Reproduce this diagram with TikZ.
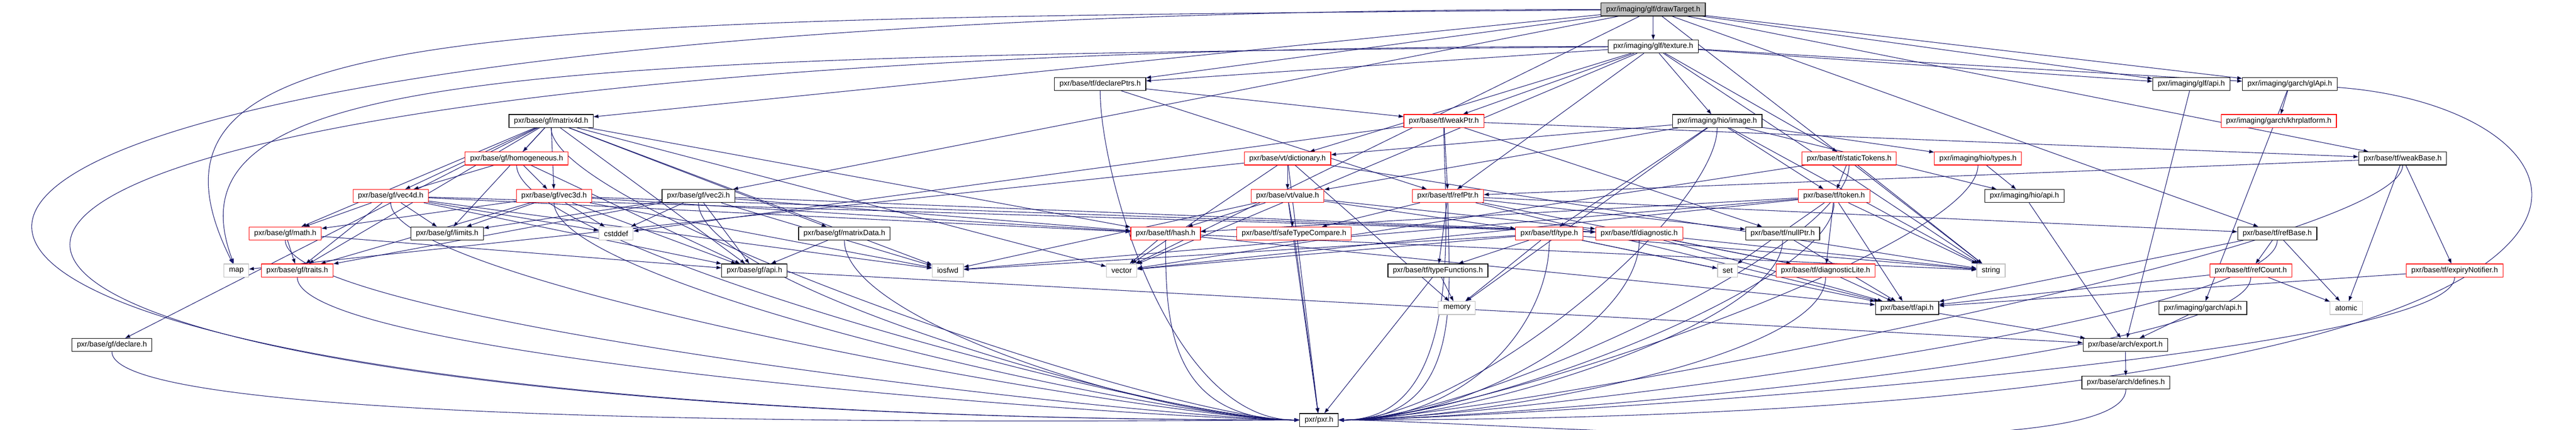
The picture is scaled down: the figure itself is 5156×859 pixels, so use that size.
\documentclass[tikz,border=0pt]{standalone}
\usepackage{fontspec}
\setmainfont{Liberation Sans}
\usetikzlibrary{arrows.meta,backgrounds}
\definecolor{edgeblue}{RGB}{25,25,112}
\definecolor{boxred}{RGB}{255,0,0}
\definecolor{sysgray}{RGB}{191,191,191}
\tikzset{
	hdr/.style={draw=black, line width=1.2pt, fill=white, rectangle, minimum height=26pt, inner xsep=10pt, inner ysep=0pt, font=\fontsize{15}{18}\selectfont, text=black},
	redhdr/.style={hdr, draw=boxred},
	syshdr/.style={hdr, draw=sysgray},
	rootbox/.style={hdr, fill=sysgray},
	dep/.style={draw=edgeblue, line width=1.1pt, -{Triangle[length=10pt,width=7pt]}},
	sinkL/.style={dep, to path={.. controls +(0,-180) and +(-300,0) .. (\tikztotarget)}},
	sinkR/.style={dep, to path={.. controls +(0,-180) and +(300,0) .. (\tikztotarget)}}
}
\begin{document}
\begin{tikzpicture}[x=1pt,y=1pt]
				\useasboundingbox (0,0) rectangle (5156,859);
				
				\draw (3309,840) node[rootbox] (root) {pxr/imaging/glf/drawTarget.h};
				\draw (3309,766) node[hdr] (tex) {pxr/imaging/glf/texture.h};
				\draw (2202,691) node[hdr] (declptr) {pxr/base/tf/declarePtrs.h};
				\draw (4386,691) node[hdr] (glfapi) {pxr/imaging/glf/api.h};
				\draw (4583,691) node[hdr] (glapi) {pxr/imaging/garch/glApi.h};
				\draw (1103,617) node[hdr] (mat) {pxr/base/gf/matrix4d.h};
				\draw (2890,617) node[redhdr] (weakptr) {pxr/base/tf/weakPtr.h};
				\draw (3437,617) node[hdr] (image) {pxr/imaging/hio/image.h};
				\draw (4561,617) node[redhdr] (khr) {pxr/imaging/garch/khrplatform.h};
				\draw (1034,542) node[redhdr] (homog) {pxr/base/gf/homogeneous.h};
				\draw (2577,542) node[redhdr] (dict) {pxr/base/vt/dictionary.h};
				\draw (3701,542) node[redhdr] (stok) {pxr/base/tf/staticTokens.h};
				\draw (3959,542) node[redhdr] (hiotypes) {pxr/imaging/hio/types.h};
				\draw (4809,542) node[hdr] (weakbase) {pxr/base/tf/weakBase.h};
				\draw (782,467) node[redhdr] (vec4d) {pxr/base/gf/vec4d.h};
				\draw (1109,467) node[redhdr] (vec3d) {pxr/base/gf/vec3d.h};
				\draw (1398,467) node[hdr] (vec2i) {pxr/base/gf/vec2i.h};
				\draw (2577,467) node[redhdr] (value) {pxr/base/vt/value.h};
				\draw (2898,467) node[redhdr] (refptr) {pxr/base/tf/refPtr.h};
				\draw (3671,467) node[redhdr] (token) {pxr/base/tf/token.h};
				\draw (4052,467) node[hdr] (hioapi) {pxr/imaging/hio/api.h};
				\draw (571,392) node[redhdr] (math) {pxr/base/gf/math.h};
				\draw (895,392) node[hdr] (limits) {pxr/base/gf/limits.h};
				\draw (1233,392) node[syshdr] (cstddef) {cstddef};
				\draw (1690,392) node[hdr] (matdata) {pxr/base/gf/matrixData.h};
				\draw (2333,392) node[redhdr] (hash) {pxr/base/tf/hash.h};
				\draw (2590,392) node[redhdr] (safe) {pxr/base/tf/safeTypeCompare.h};
				\draw (3101,392) node[redhdr] (type) {pxr/base/tf/type.h};
				\draw (3281,392) node[redhdr] (diag) {pxr/base/tf/diagnostic.h};
				\draw (3568,392) node[hdr] (nullptr) {pxr/base/tf/nullPtr.h};
				\draw (4558,392) node[hdr] (refbase) {pxr/base/tf/refBase.h};
				\draw (473,318) node[syshdr] (map) {map};
				\draw (595,318) node[redhdr] (traits) {pxr/base/gf/traits.h};
				\draw (1510,318) node[hdr] (gfapi) {pxr/base/gf/api.h};
				\draw (1897,318) node[syshdr] (iosfwd) {iosfwd};
				\draw (2245,318) node[syshdr] (vector) {vector};
				\draw (2878,318) node[hdr] (typefn) {pxr/base/tf/typeFunctions.h};
				\draw (3458,318) node[syshdr] (set) {set};
				\draw (3654,318) node[redhdr] (diaglite) {pxr/base/tf/diagnosticLite.h};
				\draw (3985,318) node[syshdr] (string) {string};
				\draw (4505,318) node[redhdr] (refcount) {pxr/base/tf/refCount.h};
				\draw (4913,318) node[redhdr] (expiry) {pxr/base/tf/expiryNotifier.h};
				\draw (2916,243) node[syshdr] (memory) {memory};
				\draw (3817,243) node[hdr] (tfapi) {pxr/base/tf/api.h};
				\draw (4409,243) node[hdr] (garchapi) {pxr/imaging/garch/api.h};
				\draw (4696,243) node[syshdr] (atomic) {atomic};
				\draw (224,169) node[hdr] (declare) {pxr/base/gf/declare.h};
				\draw (4254,169) node[hdr] (export) {pxr/base/arch/export.h};
				\draw (4255,94) node[hdr] (defines) {pxr/base/arch/defines.h};
				\draw (2640,19) node[hdr] (pxr) {pxr/pxr.h};
				
				\begin{scope}[on background layer]
				% drawTarget.h and texture.h
				\draw[dep] (root) edge (tex) edge (mat) edge (declptr) edge (vec2i) edge (glfapi) edge (glapi) edge (refbase) edge (weakbase) edge (string) edge (vector);
				\draw[dep] (root) .. controls +(-4200,0) and +(-3500,0) .. (pxr);
				\draw[dep] (root) .. controls +(-2400,-20) and +(-250,500) .. (map);
				\draw[dep] (tex) edge (glfapi) edge (glapi) edge (image) edge (declptr) edge (refptr) edge (weakptr) edge (stok) edge (dict) edge (string) edge (vector);
				\draw[dep] (tex) .. controls +(-4100,0) and +(-3400,0) .. (pxr);
				\draw[dep] (tex) .. controls +(-2300,-20) and +(-150,400) .. (map);
				\draw[dep] (declptr) edge (weakptr) edge (refptr) edge[sinkL] (pxr);
				
				% gf
				\draw[dep] (mat) edge (homog) edge (vec4d) edge (vec3d) edge (math) edge (limits) edge (traits) edge (gfapi) edge (declare) edge (matdata) edge (hash) edge (iosfwd) edge (vector) edge[sinkL] (pxr);
				\draw[dep] (homog) edge (vec4d) edge (vec3d) edge (gfapi) edge[sinkL] (pxr);
				\draw[dep] (vec4d) edge (math) edge (limits) edge (traits) edge (gfapi) edge (hash) edge (cstddef) edge (iosfwd) edge (diag) edge[sinkL] (pxr);
				\draw[dep] (vec3d) edge (math) edge (limits) edge (traits) edge (gfapi) edge (hash) edge (cstddef) edge (iosfwd) edge (diag) edge[sinkL] (pxr);
				\draw[dep] (vec2i) edge (limits) edge (traits) edge (gfapi) edge (hash) edge (cstddef) edge (iosfwd) edge (diag) edge[sinkL] (pxr);
				\draw[dep] (math) edge (traits) edge (gfapi) edge[sinkL] (pxr);
				\draw[dep] (matdata) edge (gfapi) edge[sinkL] (pxr);
				\draw[dep] (traits) edge[sinkL] (pxr);
				\draw[dep] (declare) edge[sinkL] (pxr);
				\draw[dep] (gfapi) edge (export);
				
				% hio and garch
				\draw[dep] (image) edge (hioapi) edge (hiotypes) edge (token) edge (type) edge (dict) edge (value) edge (memory) edge (string) edge[sinkR] (pxr);
				\draw[dep] (hiotypes) edge (hioapi) edge[sinkR] (pxr);
				\draw[dep] (hioapi) edge (export);
				\draw[dep] (glfapi) edge (export);
				\draw[dep] (glapi) edge (khr) edge (garchapi);
				\draw[dep] (glapi) .. controls +(700,-50) and +(2900,0) .. (pxr);
				\draw[dep] (garchapi) edge (export);
				\draw[dep] (export) edge (defines);
				\draw[dep] (defines) edge[sinkR] (pxr);
				
				% tf and vt
				\draw[dep] (weakptr) edge (refptr) edge (nullptr) edge (weakbase) edge (cstddef) edge[sinkR] (pxr);
				\draw[dep] (stok) edge (token) edge (vector) edge (string) edge[sinkR] (pxr);
				\draw[dep] (dict) edge (value) edge (map) edge (string) edge (vector) edge (memory) edge (pxr);
				\draw[dep] (value) edge (safe) edge (type) edge (diag) edge (hash) edge (iosfwd) edge (pxr);
				\draw[dep] (refptr) edge (diaglite) edge (nullptr) edge (refbase) edge (safe) edge (typefn) edge (tfapi) edge[sinkR] (pxr);
				\draw[dep] (token) edge (diaglite) edge (hash) edge (tfapi) edge (iosfwd) edge (string) edge (vector) edge (set) edge[sinkR] (pxr);
				\draw[dep] (type) edge (typefn) edge (memory) edge (iosfwd) edge (set) edge (string) edge (vector) edge (tfapi) edge[sinkR] (pxr);
				\draw[dep] (typefn) edge (memory) edge (pxr);
				\draw[dep] (diag) edge (diaglite) edge (tfapi) edge (string) edge[sinkR] (pxr);
				\draw[dep] (nullptr) edge (tfapi) edge[sinkR] (pxr);
				\draw[dep] (diaglite) edge (tfapi) edge[sinkR] (pxr);
				\draw[dep] (hash) edge (vector) edge (string) edge (tfapi) edge[sinkL] (pxr);
				\draw[dep] (safe) edge (pxr);
				\draw[dep] (weakbase) edge (expiry) edge (refptr) edge (atomic) edge[sinkR] (pxr);
				\draw[dep] (refbase) edge (refcount) edge (tfapi) edge (atomic) edge[sinkR] (pxr);
				\draw[dep] (refcount) edge (atomic) edge (tfapi) edge[sinkR] (pxr);
				\draw[dep] (expiry) edge (tfapi) edge[sinkR] (pxr);
				\draw[dep] (tfapi) edge (export);
				\end{scope}
\end{tikzpicture}
\end{document}
